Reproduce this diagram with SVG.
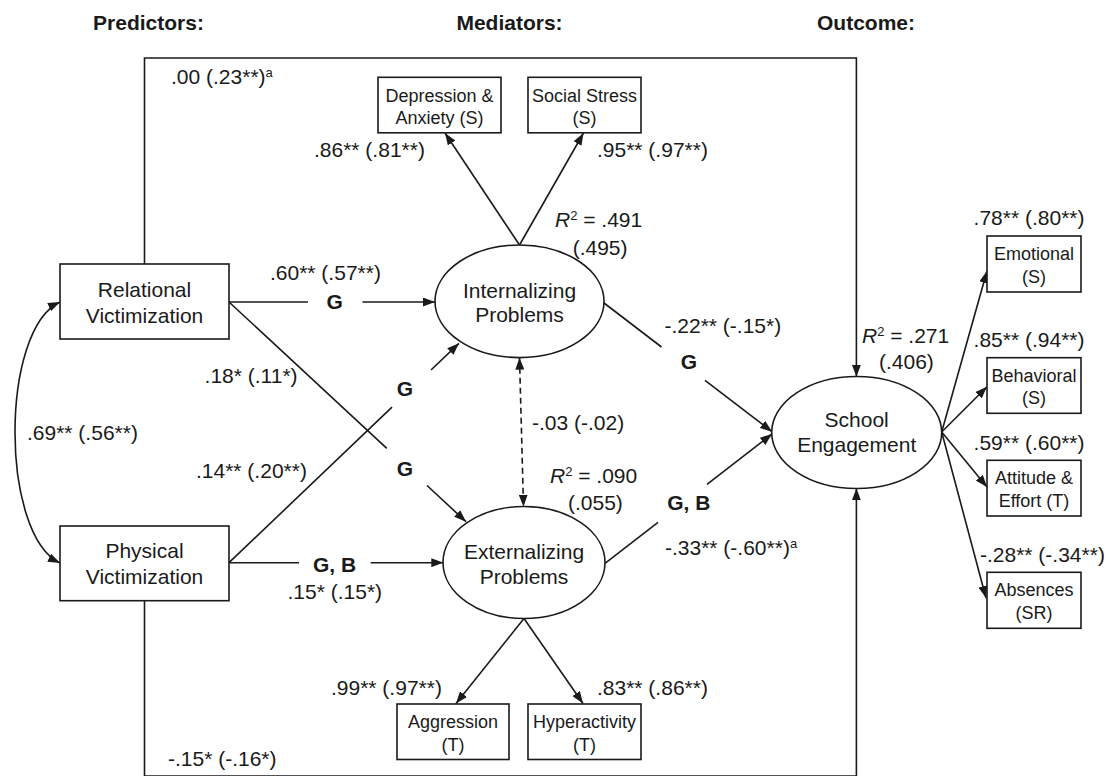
<svg xmlns="http://www.w3.org/2000/svg" width="1109" height="776" viewBox="0 0 1109 776">
<style>
text{font-family:"Liberation Sans",Arial,sans-serif;fill:#1a1a1a}
.h{font-size:21px;font-weight:bold}
.n{font-size:21px;text-anchor:middle}
.b{font-size:18px;text-anchor:middle}
.c{font-size:21px}
.g{font-size:21px;font-weight:bold;text-anchor:middle}
.sup{font-size:13px}
.box{fill:#fff;stroke:#1a1a1a;stroke-width:1.6}
.ell{fill:#fff;stroke:#1a1a1a;stroke-width:1.6}
.ln{fill:none;stroke:#1a1a1a;stroke-width:1.6}
.ar{fill:none;stroke:#1a1a1a;stroke-width:1.6;marker-end:url(#ah)}
</style>
<defs>
<marker id="ah" viewBox="0 0 12 9" refX="12" refY="4.5" markerWidth="12" markerHeight="9" markerUnits="userSpaceOnUse" orient="auto-start-reverse">
<path d="M0,0 L12,4.5 L0,9 z" fill="#1a1a1a"/>
</marker>
</defs>
<rect width="1109" height="776" fill="#fff"/>

<g id="headers">
<text class="h" x="148.5" y="30" text-anchor="middle">Predictors:</text>
<text class="h" x="509.5" y="30" text-anchor="middle">Mediators:</text>
<text class="h" x="866" y="30" text-anchor="middle">Outcome:</text>
</g>

<g id="connectors">
<polyline class="ar" points="144.5,264 144.5,58 856.4,58 856.4,376.7"/>
<polyline class="ar" points="144.5,600.7 144.5,776 856.4,776 856.4,488.3"/>
<path class="ln" d="M60,302 C0,330 0,534 60,563" marker-start="url(#ah)" marker-end="url(#ah)"/>
<line class="ln" x1="229" y1="302" x2="308" y2="302"/>
<line class="ar" x1="362.5" y1="302" x2="435" y2="302"/>
<line class="ln" x1="229" y1="302" x2="386.8" y2="448.3"/>
<line class="ar" x1="427" y1="485.5" x2="466" y2="521.7"/>
<line class="ln" x1="229" y1="562.7" x2="392" y2="407.2"/>
<line class="ar" x1="431" y1="370" x2="459" y2="343.3"/>
<line class="ln" x1="229" y1="562.7" x2="299" y2="562.7"/>
<line class="ar" x1="370.7" y1="562.7" x2="443.3" y2="562.7"/>
<line class="ln" x1="604" y1="303" x2="661.5" y2="347"/>
<line class="ar" x1="705" y1="380.4" x2="772" y2="431.7"/>
<line class="ln" x1="605" y1="563.3" x2="658" y2="522.3"/>
<line class="ar" x1="707" y1="484.3" x2="772" y2="434"/>
<line class="ar" x1="519.5" y1="245" x2="445" y2="133"/>
<line class="ar" x1="519.5" y1="245" x2="583.5" y2="133"/>
<line class="ar" x1="524" y1="618.5" x2="456" y2="703.5"/>
<line class="ar" x1="524" y1="618.5" x2="583" y2="703.5"/>
<line class="ln" x1="519.5" y1="357.7" x2="523.5" y2="506.7" stroke-dasharray="6,4" marker-start="url(#ah)" marker-end="url(#ah)"/>
<line class="ar" x1="941.7" y1="432" x2="987" y2="271"/>
<line class="ar" x1="941.7" y1="432" x2="987" y2="386.7"/>
<line class="ar" x1="941.7" y1="432" x2="987" y2="487"/>
<line class="ar" x1="941.7" y1="432" x2="986" y2="598"/>
</g>

<g id="relational">
<rect class="box" x="60" y="264" width="169" height="75"/>
<text class="n" x="144.5" y="296.7">Relational</text>
<text class="n" x="144.5" y="322.7">Victimization</text>
</g>
<g id="physical">
<rect class="box" x="60" y="526" width="169" height="74.7"/>
<text class="n" x="144.5" y="558">Physical</text>
<text class="n" x="144.5" y="584">Victimization</text>
</g>
<g id="internalizing">
<ellipse class="ell" cx="519.5" cy="301.3" rx="84.5" ry="56.3"/>
<text class="n" x="519.5" y="297.5">Internalizing</text>
<text class="n" x="519.5" y="322">Problems</text>
</g>
<g id="externalizing">
<ellipse class="ell" cx="524" cy="562.5" rx="81" ry="56"/>
<text class="n" x="524" y="559">Externalizing</text>
<text class="n" x="524" y="583.5">Problems</text>
</g>
<g id="school">
<ellipse class="ell" cx="856.7" cy="432.5" rx="85" ry="56"/>
<text class="n" x="856.7" y="427">School</text>
<text class="n" x="856.7" y="452.3">Engagement</text>
</g>
<g id="depression">
<rect class="box" x="378" y="77.3" width="123" height="55.5"/>
<text class="b" x="439.5" y="101.7">Depression &amp;</text>
<text class="b" x="439.5" y="124">Anxiety (S)</text>
</g>
<g id="socialstress">
<rect class="box" x="528" y="77.3" width="113" height="55.5"/>
<text class="b" x="584.5" y="101.7">Social Stress</text>
<text class="b" x="584.5" y="124">(S)</text>
</g>
<g id="aggression">
<rect class="box" x="397" y="704" width="112" height="55.5"/>
<text class="b" x="453" y="727.5">Aggression</text>
<text class="b" x="453" y="750.5">(T)</text>
</g>
<g id="hyperactivity">
<rect class="box" x="528" y="704" width="113" height="55.5"/>
<text class="b" x="584.5" y="727.5">Hyperactivity</text>
<text class="b" x="584.5" y="750.5">(T)</text>
</g>
<g id="emotional">
<rect class="box" x="987" y="236" width="94" height="56"/>
<text class="b" x="1034" y="260">Emotional</text>
<text class="b" x="1034" y="282.7">(S)</text>
</g>
<g id="behavioral">
<rect class="box" x="987" y="357.7" width="94" height="55.6"/>
<text class="b" x="1034" y="381.7">Behavioral</text>
<text class="b" x="1034" y="404">(S)</text>
</g>
<g id="attitude">
<rect class="box" x="987" y="460.3" width="94" height="55.7"/>
<text class="b" x="1034" y="484.3">Attitude &amp;</text>
<text class="b" x="1034" y="506.7">Effort (T)</text>
</g>
<g id="absences">
<rect class="box" x="987" y="572.3" width="94" height="56"/>
<text class="b" x="1034" y="596.3">Absences</text>
<text class="b" x="1034" y="618.7">(SR)</text>
</g>

<g id="labels">
<text class="c" x="171" y="84">.00 (.23**)<tspan class="sup" dy="-7">a</tspan></text>
<text class="c" x="168" y="766">-.15* (-.16*)</text>
<text class="c" x="314" y="156.7">.86** (.81**)</text>
<text class="c" x="597" y="156.7">.95** (.97**)</text>
<text class="c" x="555" y="226.7"><tspan font-style="italic">R</tspan><tspan class="sup" dy="-7">2</tspan><tspan dy="7"> = .491</tspan></text>
<text class="c" x="572.7" y="255">(.495)</text>
<text class="c" x="270" y="280">.60** (.57**)</text>
<text class="g" x="334.6" y="309">G</text>
<text class="c" x="204.6" y="383">.18* (.11*)</text>
<text class="g" x="405" y="396">G</text>
<text class="c" x="27" y="440">.69** (.56**)</text>
<text class="g" x="405" y="476">G</text>
<text class="c" x="196" y="478">.14** (.20**)</text>
<text class="g" x="334.6" y="571.7">G, B</text>
<text class="c" x="287.5" y="599">.15* (.15*)</text>
<text class="c" x="532" y="430">-.03 (-.02)</text>
<text class="c" x="550" y="483.3"><tspan font-style="italic">R</tspan><tspan class="sup" dy="-7">2</tspan><tspan dy="7"> = .090</tspan></text>
<text class="c" x="568" y="510">(.055)</text>
<text class="c" x="664.5" y="333.3">-.22** (-.15*)</text>
<text class="g" x="688.8" y="369.3">G</text>
<text class="g" x="688.8" y="510">G, B</text>
<text class="c" x="665" y="555">-.33** (-.60**)<tspan class="sup" dy="-7">a</tspan></text>
<text class="c" x="862" y="343.3"><tspan font-style="italic">R</tspan><tspan class="sup" dy="-7">2</tspan><tspan dy="7"> = .271</tspan></text>
<text class="c" x="879" y="369.3">(.406)</text>
<text class="c" x="331" y="695">.99** (.97**)</text>
<text class="c" x="597" y="695">.83** (.86**)</text>
<text class="c" x="973.6" y="225">.78** (.80**)</text>
<text class="c" x="973.6" y="346.7">.85** (.94**)</text>
<text class="c" x="973.6" y="450">.59** (.60**)</text>
<text class="c" x="980" y="561.7">-.28** (-.34**)</text>
</g>
</svg>
